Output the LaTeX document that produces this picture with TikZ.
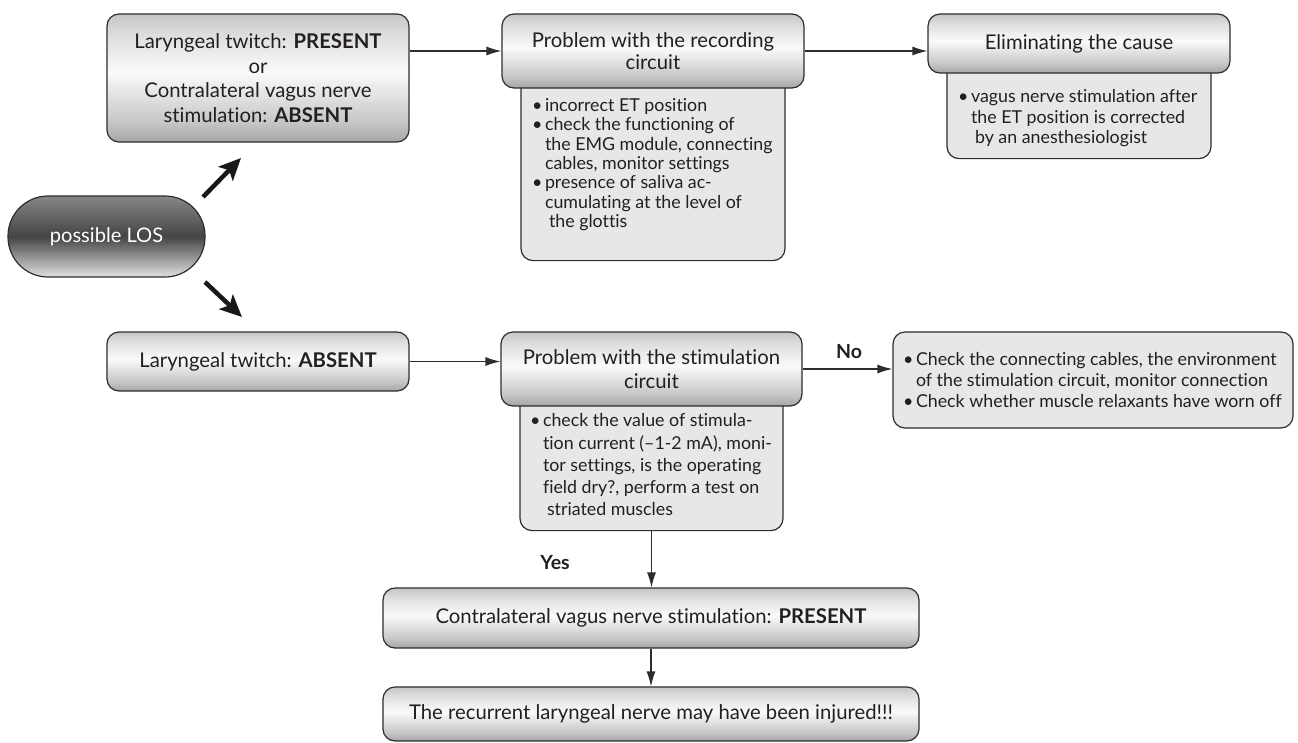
\documentclass[tikz,border=0pt]{standalone}
\usepackage{fontspec}
\setmainfont{Lato}[Ligatures=NoCommon]
\usetikzlibrary{arrows.meta,backgrounds,calc}
\definecolor{edge}{RGB}{45,45,45}
\definecolor{txt}{RGB}{35,31,32}
\definecolor{bodyc}{RGB}{231,231,232}
\definecolor{hbot}{RGB}{165,165,168}
\definecolor{hmid}{RGB}{250,250,250}
\definecolor{htop}{RGB}{198,198,200}
\definecolor{lbot}{RGB}{225,225,225}
\definecolor{lmid}{RGB}{68,68,68}
\definecolor{ltop}{RGB}{135,135,135}
\pgfdeclareverticalshading{hdrshade}{100bp}{color(0bp)=(hbot); color(25bp)=(hbot); color(33bp)=(hbot!60!hmid); color(52bp)=(hmid); color(66bp)=(htop!50!hmid); color(75bp)=(htop); color(100bp)=(htop)}
\newcommand\bul{\makebox[13pt][l]{•}}
\newcommand\ind{\hspace*{13pt}}
\tikzset{
  hdr/.style={draw=edge, line width=1.2pt, rounded corners=12pt, shading=hdrshade,
    align=center, text=txt, inner sep=0pt, font=\fontsize{20.3}{21.8}\selectfont},
  bodybox/.style={draw=edge, line width=1.2pt, rounded corners=12pt, fill=bodyc,
    inner sep=0pt, text=txt, anchor=north},
  plainbox/.style={draw=edge, line width=1.2pt, rounded corners=12pt, fill=bodyc,
    inner sep=0pt, text=txt},
  losbox/.style={draw=edge, line width=1.2pt, rounded corners=40pt,
    top color=ltop, bottom color=lbot, middle color=lmid,
    text=white, inner sep=0pt, minimum width=197pt, minimum height=81pt,
    font=\fontsize{20.1}{22}\selectfont},
  conn/.style={draw=edge, line width=1.2pt, -{Latex[length=15pt,width=9pt]}},
  bigarrow/.style={draw=black!90, line width=4.5pt, -{Stealth[length=22pt,width=20pt,inset=5pt]}},
  lbl/.style={text=txt, font=\fontsize{19.5}{21}\selectfont\bfseries, inner sep=0pt}
}
\begin{document}
\begin{tikzpicture}[x=1pt,y=-1pt]
\useasboundingbox (0,0) rectangle (1298,742);

% left column
\node[hdr, minimum width=302pt, minimum height=128pt, font=\fontsize{20.3}{24.5}\selectfont]
  (A) at (258,78) {Laryngeal twitch: \textbf{PRESENT}\\or\\Contralateral vagus nerve\\stimulation: \textbf{ABSENT}};
\node[losbox] (los) at (106.5,236.5) {possible LOS};
\node[hdr, minimum width=302pt, minimum height=59pt] (B) at (258,361.5) {Laryngeal twitch: \textbf{ABSENT}};

% headers
\node[hdr, minimum width=302pt, minimum height=74pt] (rec) at (653,51) {Problem with the recording\\circuit};
\node[hdr, minimum width=302pt, minimum height=59pt] (elim) at (1079,43.5) {Eliminating the cause};
\node[hdr, minimum width=301pt, minimum height=74pt, font=\fontsize{20.3}{24.5}\selectfont] (stim) at (651.5,369) {Problem with the stimulation\\circuit};

% bodies (behind headers)
\begin{scope}[on background layer]
\node[bodybox] (recb) at (rec.center) {\parbox[t][209pt][t]{264pt}{\fontsize{17.8}{19.3}\selectfont\leftskip=11pt
\vspace*{47pt}
\bul incorrect ET position\\
\bul check the functioning of\\
\ind the EMG module, connecting\\
\ind cables, monitor settings\\
\bul presence of saliva ac-\\
\ind cumulating at the level of\\
\ind\hspace*{4pt}the glottis}};
\node[bodybox] (elimb) at (elim.center) {\parbox[t][114.5pt][t]{264pt}{\fontsize{17.8}{20.8}\selectfont\leftskip=11pt
\vspace*{45pt}
\bul vagus nerve stimulation after\\
\ind the ET position is corrected\\
\ind\hspace*{4pt}by an anesthesiologist}};
\node[bodybox] (stimb) at (stim.center) {\parbox[t][161pt][t]{263pt}{\fontsize{17.8}{22.3}\selectfont\leftskip=10pt
\vspace*{44pt}
\bul check the value of stimula-\\
\ind tion current (–1-2 mA), moni-\\
\ind tor settings, is the operating\\
\ind field dry?, perform a test on\\
\ind\hspace*{4pt}striated muscles}};
\end{scope}

\node[plainbox, minimum width=400pt, minimum height=96pt] (no) at (1093,380)
  {\parbox{380pt}{\fontsize{17.8}{20.8}\selectfont
\bul Check the connecting cables, the environment\\
\ind of the stimulation circuit, monitor connection\\
\bul Check whether muscle relaxants have worn off}};

\node[hdr, minimum width=536pt, minimum height=60pt] (yes) at (651,618) {Contralateral vagus nerve stimulation: \textbf{PRESENT}};
\node[hdr, minimum width=536pt, minimum height=54pt] (last) at (651,714) {The recurrent laryngeal nerve may have been injured!!!};

% labels
\node[lbl] (nolbl) at (849,352) {No};
\node[lbl] (yeslbl) at (555,563) {Yes};

% connectors
\draw[conn] (A.east |- rec.west) -- (rec.west);
\draw[conn] (rec.east) -- (rec.east -| elim.west);
\draw[conn] (B.east) -- (B.east -| stim.west);
\draw[conn] (stim.east) -- (stim.east -| no.west);
\draw[conn] (stimb.south) -- (stimb.south |- yes.north);
\draw[conn] (yes.south) -- (last.north);

% thick arrows
\coordinate (u1) at (203,197);
\coordinate (u2) at (241,158);
\coordinate (d1) at (205,282);
\coordinate (d2) at (242,317);
\draw[bigarrow] (u1) -- (u2);
\draw[bigarrow] (d1) -- (d2);
\end{tikzpicture}
\end{document}
